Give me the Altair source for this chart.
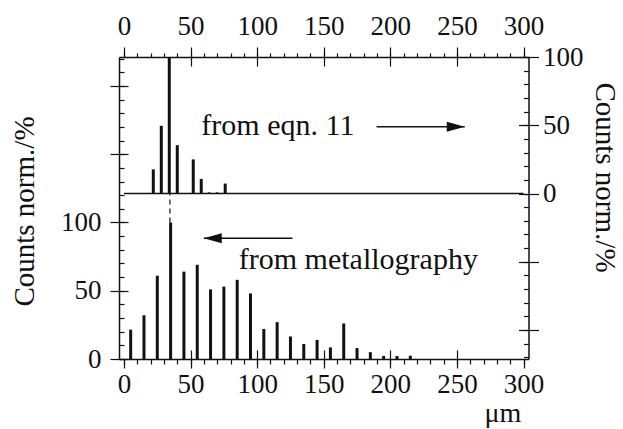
import altair as alt
import pandas as pd

FONT = "Liberation Serif"
INK = "#111111"

# bottom panel: from metallography (size in um, normalised counts in %)
metal_size = [5, 15, 25, 35, 45, 55, 65, 75, 85, 95, 105, 115, 125, 135, 145,
              155, 165, 175, 185, 195, 205, 215]
metal_counts = [21.5, 32, 61, 100, 64, 69, 51, 53, 58, 48, 22, 27, 16.5, 11, 14,
                8.5, 26, 8, 5, 2.2, 2.2, 2.4]

# top panel: from eqn. 11
eqn_size = [22, 28, 34, 40, 52, 58, 64, 70, 76]
eqn_counts = [17.7, 49.6, 100, 35.4, 25, 10.7, 0.8, 0.8, 7.3]

# tick values
x_major = [0, 50, 100, 150, 200, 250, 300]
x_major_inner = [50, 100, 150, 200, 250]
x_minor = [0, 10, 20, 30, 40, 50, 60, 70, 80, 90, 100, 110, 120, 130, 140, 150,
           160, 170, 180, 190, 200, 210, 220, 230, 240, 250, 260, 270, 280, 290, 300]
left_major = [0, 50, 100, 150, 200]
left_minor = [0, 10, 20, 30, 40, 50, 60, 70, 80, 90, 100, 110, 120, 130, 140, 150,
              160, 170, 180, 190, 200, 210, 220]
right_major = [-100, -50, 0, 50, 100]
right_minor = [-120, -110, -100, -90, -80, -70, -60, -50, -40, -30, -20, -10, 0,
               10, 20, 30, 40, 50, 60, 70, 80, 90, 100]

# annotations
eqn_label = "from eqn. 11"
metal_label = "from metallography"
axis_title = "Counts norm./%"
unit_label = "μm"

W, H = 409.5, 302
X_SCALE = alt.Scale(domain=[0, 300], nice=False, zero=False)
L_SCALE = alt.Scale(domain=[0, 221.2], nice=False, zero=False)
R_SCALE = alt.Scale(domain=[-121.2, 100], nice=False, zero=False)

metal = pd.DataFrame({"size": metal_size, "count": metal_counts})
eqn = pd.DataFrame({"size": eqn_size, "count": eqn_counts})


def tick_axis(orient, values, size, offset=0):
    return alt.Axis(orient=orient, values=values, tickSize=size, offset=offset,
                    labels=False, domain=False, grid=False, title=None)


def ghost(df, scale, xaxis, yaxis):
    return alt.Chart(df).mark_point(opacity=0).encode(
        x=alt.X("size:Q", scale=X_SCALE, axis=xaxis),
        y=alt.Y("count:Q", scale=scale, axis=yaxis),
    )


bars_metal = alt.Chart(metal).mark_bar(size=3, color=INK).encode(
    x=alt.X("size:Q", scale=X_SCALE,
            axis=alt.Axis(orient="bottom", values=x_major, tickSize=9, labelPadding=3,
                          domain=True, grid=False, title=unit_label,
                          titleX=383.5, titleY=62, titleAlign="center",
                          titleBaseline="alphabetic", titleFontSize=28)),
    y=alt.Y("count:Q", scale=L_SCALE,
            axis=alt.Axis(orient="left", values=left_major, tickSize=9, labelPadding=9,
                          labelExpr="datum.value <= 100 ? datum.label : ''",
                          domain=True, grid=False, title=axis_title,
                          titleX=-85.7, titleY=154, titleAngle=270,
                          titleAlign="center", titleBaseline="alphabetic")),
    y2=alt.datum(0),
)

bars_eqn = alt.Chart(eqn).mark_bar(size=3, color=INK).encode(
    x=alt.X("size:Q", scale=X_SCALE,
            axis=alt.Axis(orient="top", values=x_major, tickSize=10, labelPadding=7,
                          domain=True, grid=False, title=None)),
    y=alt.Y("count:Q", scale=R_SCALE,
            axis=alt.Axis(orient="right", values=right_major, tickSize=10, labelPadding=4,
                          labelExpr="datum.value >= 0 ? datum.label : ''",
                          domain=True, grid=False, title=axis_title,
                          titleX=66.5, titleY=120, titleAngle=90,
                          titleAlign="center", titleBaseline="alphabetic")),
    y2=alt.datum(0),
)

g1 = ghost(metal, L_SCALE, tick_axis("bottom", x_minor, 5), tick_axis("left", left_minor, 5, -5))
g2 = ghost(metal, L_SCALE, tick_axis("bottom", x_major_inner, 9, -9), tick_axis("left", left_major, 9, -9))
g3 = ghost(eqn, R_SCALE, tick_axis("top", x_minor, 4), tick_axis("right", right_minor, 5, -5))
g4 = ghost(eqn, R_SCALE, tick_axis("top", x_major_inner, 9, -9), tick_axis("right", right_major, 10, -10))

# separator: zero line of the top panel
sep = alt.Chart(pd.DataFrame({"x": [0], "x2": [300], "y": [0]})).mark_rule(
    color=INK, strokeWidth=1.5).encode(
    x=alt.X("x:Q", scale=X_SCALE, axis=None), x2="x2:Q",
    y=alt.Y("y:Q", scale=R_SCALE, axis=None))

# dashed connector between the two peaks
dash = alt.Chart(pd.DataFrame({"x": [34.5], "y": [100], "y2": [121.2]})).mark_rule(
    color=INK, strokeWidth=1.2, strokeDash=[5, 4]).encode(
    x=alt.X("x:Q", scale=X_SCALE, axis=None),
    y=alt.Y("y:Q", scale=L_SCALE, axis=None), y2="y2:Q")

# arrows
top_arrow = pd.DataFrame({"x": [189.7], "x2": [255.9], "y": [48.9]})
bot_arrow = pd.DataFrame({"x": [59.9], "x2": [126.5], "y": [88.4]})

top_shaft = alt.Chart(top_arrow).mark_rule(color=INK, strokeWidth=1.4).encode(
    x=alt.X("x:Q", scale=X_SCALE, axis=None), x2="x2:Q",
    y=alt.Y("y:Q", scale=R_SCALE, axis=None))
top_head = alt.Chart(top_arrow).mark_point(
    shape="M0,0 L-2,-0.55 L-2,0.55 Z", size=324, filled=True, opacity=1, color=INK,
    strokeWidth=0).encode(
    x=alt.X("x2:Q", scale=X_SCALE, axis=None),
    y=alt.Y("y:Q", scale=R_SCALE, axis=None))

bot_shaft = alt.Chart(bot_arrow).mark_rule(color=INK, strokeWidth=1.4).encode(
    x=alt.X("x:Q", scale=X_SCALE, axis=None), x2="x2:Q",
    y=alt.Y("y:Q", scale=L_SCALE, axis=None))
bot_head = alt.Chart(bot_arrow).mark_point(
    shape="M0,0 L2,-0.55 L2,0.55 Z", size=324, filled=True, opacity=1, color=INK,
    strokeWidth=0).encode(
    x=alt.X("x:Q", scale=X_SCALE, axis=None),
    y=alt.Y("y:Q", scale=L_SCALE, axis=None))

top_text = alt.Chart(pd.DataFrame({"x": [58.1], "y": [42.9], "t": [eqn_label]})).mark_text(
    align="left", baseline="alphabetic", font=FONT, fontSize=30, color=INK).encode(
    x=alt.X("x:Q", scale=X_SCALE, axis=None),
    y=alt.Y("y:Q", scale=R_SCALE, axis=None), text="t:N")

bot_text = alt.Chart(pd.DataFrame({"x": [86.2], "y": [65.9], "t": [metal_label]})).mark_text(
    align="left", baseline="alphabetic", font=FONT, fontSize=30, color=INK).encode(
    x=alt.X("x:Q", scale=X_SCALE, axis=None),
    y=alt.Y("y:Q", scale=L_SCALE, axis=None), text="t:N")

chart = alt.layer(
    bars_metal, bars_eqn, g1, g2, g3, g4, sep, dash,
    top_shaft, top_head, bot_shaft, bot_head, top_text, bot_text,
).resolve_scale(y="independent").resolve_axis(x="independent", y="independent").properties(
    width=W, height=H,
    autosize=alt.AutoSizeParams(type="none"),
    padding={"left": 119, "top": 57, "right": 94.5, "bottom": 70},
    background="white",
).configure_view(strokeWidth=0).configure_axis(
    labelFont=FONT, labelFontSize=27, labelColor=INK,
    titleFont=FONT, titleFontSize=29, titleColor=INK, titleFontWeight="normal",
    labelFlush=False, labelOverlap=False, labelBound=False,
    domainColor=INK, domainWidth=1.5, tickColor=INK, tickWidth=1.2, grid=False,
)

chart.save("out.html", embed_options={"renderer": "svg", "actions": False})
